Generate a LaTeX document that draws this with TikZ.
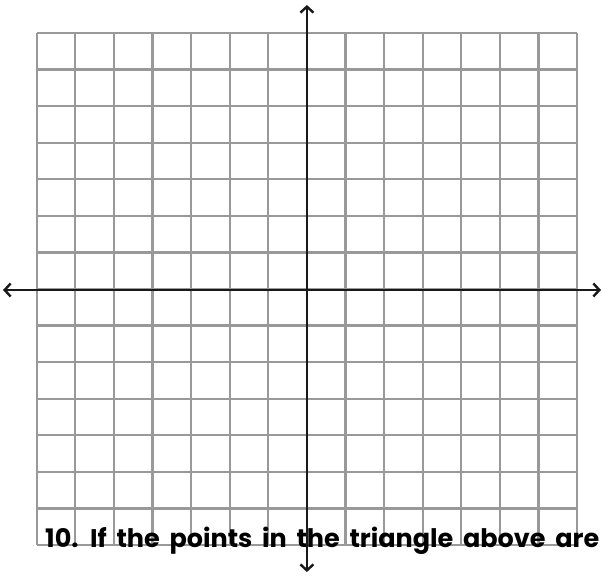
\documentclass[tikz,border=0pt]{standalone}
\usepackage{fontspec}
\setmainfont{Poppins}[WordSpace=1.8]
\usetikzlibrary{arrows.meta}
\begin{document}
\begin{tikzpicture}[x=1pt,y=-1pt,
  gridline/.style={draw=black!40,line width=2.2pt},
  axisline/.style={draw=black!90,line width=2pt,{Straight Barb[length=6pt,width=13pt,line width=2.4pt]}-{Straight Barb[length=6pt,width=13pt,line width=2.4pt]}},
  qtext/.style={font=\fontsize{25.5}{28}\selectfont\bfseries,text=black,inner sep=0pt,anchor=base west}]
\useasboundingbox[fill=white] (0,0) rectangle (603,576);
\foreach \i in {0,...,14} {
  \draw[gridline] ({36.7+\i*38.6},33) -- ({36.7+\i*38.6},545);
  \draw[gridline] (36.7,{33+\i*36.57}) -- (577,{33+\i*36.57});
}
\coordinate (ytop) at (306.9,5);
\coordinate (ybot) at (306.9,572);
\coordinate (xleft) at (3,290);
\coordinate (xright) at (601,290);
\draw[axisline] (ybot) -- (ytop);
\draw[axisline] (xleft) -- (xright);
\node[qtext] (q) at (45,547) {10. If the points in the triangle above are};
\end{tikzpicture}
\end{document}
